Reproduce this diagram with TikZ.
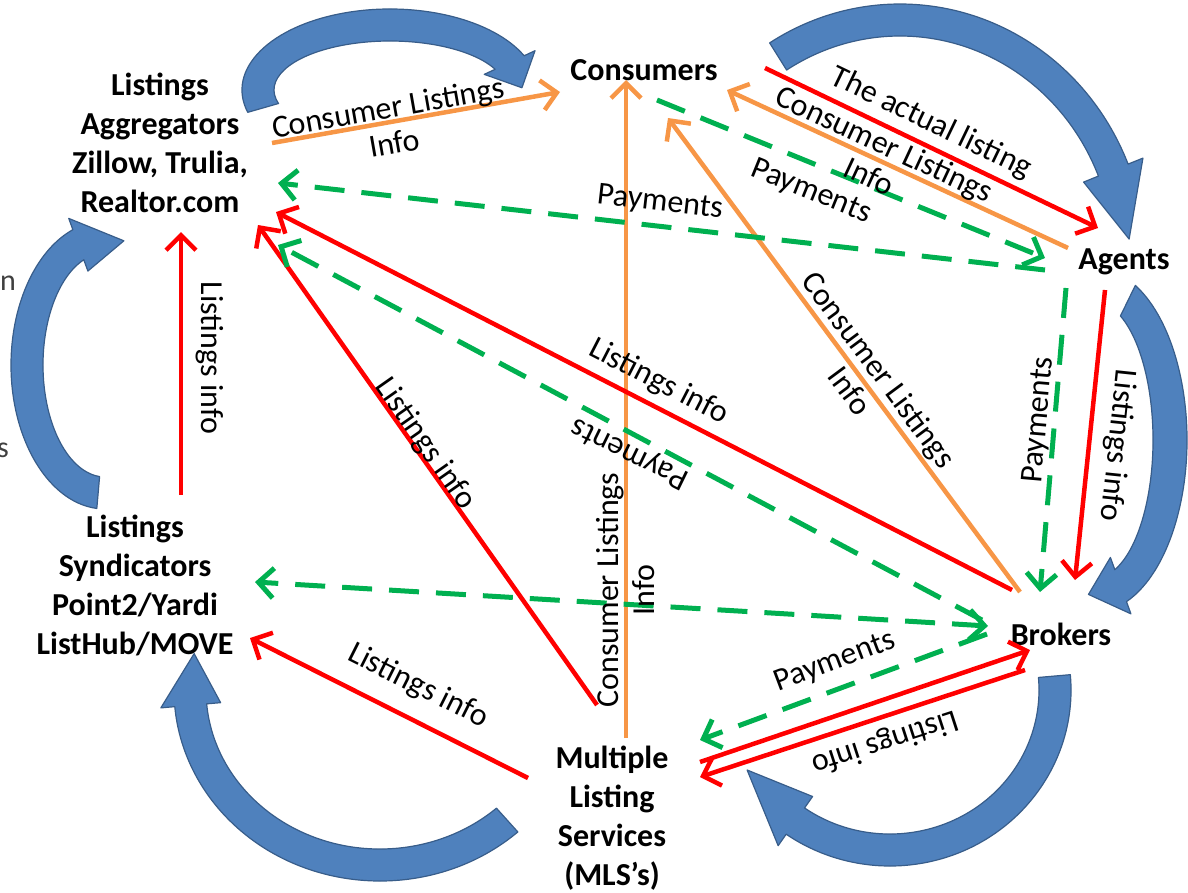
\documentclass[tikz,border=0pt]{standalone}
\usepackage{fontspec}
\setmainfont{Carlito}
\usetikzlibrary{arrows.meta}
\definecolor{cRed}{HTML}{FF0000}
\definecolor{cOrange}{HTML}{F79646}
\definecolor{cGreen}{HTML}{00B050}
\definecolor{cBlue}{HTML}{4F81BD}
\definecolor{cBlueEdge}{HTML}{385D8A}
\definecolor{cGrayText}{HTML}{404040}
% #1 cx, #2 cy, #3 rx, #4 ry, #5 half band, #6 start angle, #7 head base angle, #8 tip angle, #9 head half width
\newcommand{\circArrow}[9]{%
  \filldraw[fill=cBlue, draw=cBlueEdge, line width=1.2pt, line join=round]
  ({#1+(#3+#5)*cos(#6)},{#2+(#4+#5)*sin(#6)})
  arc[start angle=#6, end angle=#7, x radius={#3+#5}, y radius={#4+#5}]
  -- ({#1+(#3+#9)*cos(#7)},{#2+(#4+#9)*sin(#7)})
  -- ({#1+#3*cos(#8)},{#2+#4*sin(#8)})
  -- ({#1+(#3-#9)*cos(#7)},{#2+(#4-#9)*sin(#7)})
  -- ({#1+(#3-#5)*cos(#7)},{#2+(#4-#5)*sin(#7)})
  arc[start angle=#7, end angle=#6, x radius={#3-#5}, y radius={#4-#5}]
  -- cycle;}
\begin{document}
\begin{tikzpicture}[x=1pt, y=-1pt,
  nodetext/.style={font=\fontsize{32}{39}\selectfont\bfseries, align=center, inner sep=0pt},
  lbl/.style={font=\fontsize{32}{36}\selectfont, align=center, inner sep=0pt},
  tipbarb/.style={-{Straight Barb[length=15pt,width=30pt]}},
  tipboth/.style={{Straight Barb[length=15pt,width=30pt]}-{Straight Barb[length=15pt,width=30pt]}},
  redarrow/.style={draw=cRed, line width=4.5pt, tipbarb},
  orangearrow/.style={draw=cOrange, line width=4.5pt, tipbarb},
  greenline/.style={draw=cGreen, line width=5pt, dash pattern=on 30pt off 17pt},
  greenarrow/.style={greenline, tipbarb},
  cliptext/.style={font=\fontsize{30}{36}\selectfont, text=cGrayText, inner sep=0pt}
]
\useasboundingbox (0,0) rectangle (1188,892);

% clipped slide text at left edge
\node[cliptext, anchor=east] (clipn) at (16,283) {n};
\node[cliptext, anchor=east] (clips) at (9,450) {s};

% blue circular arrows
\circArrow{390}{90}{132}{65}{16}{164}{335}{358}{28}
\circArrow{900}{260}{230}{240}{16}{-122}{-22}{-5}{32}
\circArrow{1095}{440}{75}{155}{17}{-64}{70}{95}{30}
\circArrow{890}{690}{165}{160}{16}{-5}{125}{150}{30}
\circArrow{380}{690}{190}{175}{16}{48}{175}{192}{30}
\circArrow{105}{365}{78}{128}{16}{95}{250}{284}{28}

% nodes
\node[nodetext] (agg) at (160,143) {Listings\\Aggregators\\Zillow, Trulia,\\Realtor.com};
\node[nodetext] (cons) at (644,70) {Consumers};
\node[nodetext] (agents) at (1124,262) {Agents};
\node[nodetext] (brokers) at (1061,634) {Brokers};
\node[nodetext] (mls) at (612,818) {Multiple\\Listing\\Services\\(MLS’s)};
\node[nodetext] (synd) at (135,585) {Listings\\Syndicators\\Point2/Yardi\\ListHub/MOVE};

% connector end points
\coordinate (aggE1) at (272,143);
\coordinate (aggE2) at (278,183);
\coordinate (aggE3) at (276,212);
\coordinate (aggE4) at (278,245);
\coordinate (aggE5) at (258,225);
\coordinate (aggS1) at (181,232);
\coordinate (consW) at (560,92);
\coordinate (consE1) at (727,90);
\coordinate (consE2) at (668,118);
\coordinate (consS) at (626,80);
\coordinate (consR) at (765,68);
\coordinate (consG) at (657,100);
\coordinate (agW1) at (1098,228);
\coordinate (agW2) at (1068,248);
\coordinate (agW3) at (1045,258);
\coordinate (agW4) at (1045,270);
\coordinate (agS1) at (1105,290);
\coordinate (agS2) at (1066,288);
\coordinate (brN1) at (1075,580);
\coordinate (brN2) at (1040,592);
\coordinate (brW1) at (1020,592);
\coordinate (brW2) at (1012,590);
\coordinate (brW3) at (982,620);
\coordinate (brW4) at (988,626);
\coordinate (brW5) at (987,634);
\coordinate (brW6) at (1030,650);
\coordinate (brW7) at (1025,670);
\coordinate (mlsN) at (626,738);
\coordinate (mlsNW) at (597,705);
\coordinate (mlsW) at (528,778);
\coordinate (mlsE1) at (700,740);
\coordinate (mlsE2) at (700,762);
\coordinate (mlsE3) at (700,777);
\coordinate (syN) at (181,495);
\coordinate (syE1) at (255,582);
\coordinate (syE2) at (250,638);

% orange connectors
\draw[orangearrow] (aggE1) -- (consW);
\draw[orangearrow] (agW2) -- (consE1);
\draw[orangearrow] (brW1) -- (consE2);
\draw[orangearrow] (mlsN) -- (consS);

% red connectors
\draw[redarrow] (consR) -- (agW1);
\draw[redarrow] (brW2) -- (aggE3);
\draw[redarrow] (mlsNW) -- (aggE5);
\draw[redarrow] (syN) -- (aggS1);
\draw[redarrow] (agS1) -- (brN1);
\draw[redarrow] (mlsE2) -- (brW6);
\draw[redarrow] (brW7) -- (mlsE3);
\draw[redarrow] (mlsW) -- (syE2);

% green dashed connectors
\draw[greenarrow] (consG) -- (agW3);
\draw[greenarrow] (agW4) -- (aggE2);
\draw[greenarrow] (brW3) -- (aggE4);
\draw[greenarrow] (agS2) -- (brN2);
\draw[greenline, tipboth] (brW4) -- (syE1);
\draw[greenarrow] (brW5) -- (mlsE1);

% labels
\node[lbl, rotate=10] (l1) at (391,125) {Consumer Listings\\Info};
\node[lbl, rotate=-25] (l2) at (877,160) {Consumer Listings\\Info};
\node[lbl, rotate=-53.4] (l3) at (865,380) {Consumer Listings\\Info};
\node[lbl, rotate=90] (l4) at (626,590) {Consumer Listings\\Info};
\node[lbl, rotate=-25.7] (l5) at (931,123) {The actual listing};
\node[lbl, rotate=-27.2] (l6) at (659,382) {Listings info};
\node[lbl, rotate=-55] (l7) at (425,444) {Listings info};
\node[lbl, rotate=-90] (l8) at (210,358) {Listings info};
\node[lbl, rotate=-96] (l9) at (1117,445) {Listings info};
\node[lbl, rotate=198] (l10) at (885,742) {Listings info};
\node[lbl, rotate=-26.7] (l11) at (418,686) {Listings info};
\node[lbl, rotate=-22] (l12) at (811,192) {Payments};
\node[lbl, rotate=-6.5] (l13) at (660,203) {Payments};
\node[lbl, rotate=154] (l14) at (630,453) {Payments};
\node[lbl, rotate=85] (l15) at (1039,420) {Payments};
\node[lbl, rotate=20.6] (l16) at (835,662) {Payments};
\end{tikzpicture}
\end{document}
